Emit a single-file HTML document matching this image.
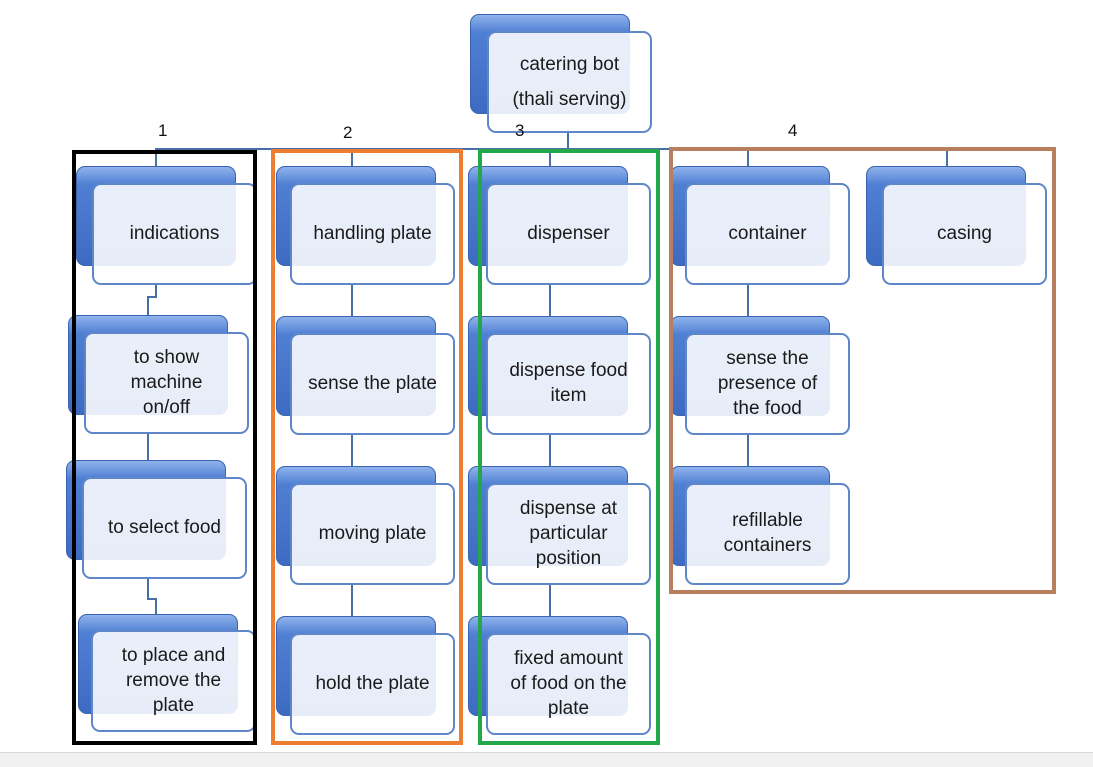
<!DOCTYPE html>
<html><head><meta charset="utf-8"><style>
body{margin:0;width:1093px;height:766px;background:#fff;position:relative;overflow:hidden;font-family:"Liberation Sans",sans-serif}
.b{position:absolute;width:160px;height:100px;border-radius:9px;background:linear-gradient(180deg,#8fb3ec 0%,#4f7fd3 18%,#3d6bc2 100%);border:1px solid #3a63b0;box-sizing:border-box}
.f{position:absolute;width:165px;height:102px;border-radius:9px;background:rgba(255,255,255,0.88);border:2px solid #5f86c8;box-sizing:border-box;display:flex;align-items:center;justify-content:center;text-align:center;font-size:19px;line-height:25px;color:#1a1a1a;padding:0 0 2px;white-space:nowrap}
.l{position:absolute;background:#4a6ea8}
.box{position:absolute;box-sizing:border-box}
.n{position:absolute;font-size:17px;color:#111}
</style></head><body>
<div class="l" style="left:155px;top:148px;width:793px;height:2px"></div>
<div class="l" style="left:567px;top:130px;width:2px;height:19px"></div>
<div class="l" style="left:155px;top:148px;width:2px;height:20px"></div>
<div class="l" style="left:351px;top:148px;width:2px;height:20px"></div>
<div class="l" style="left:549px;top:148px;width:2px;height:20px"></div>
<div class="l" style="left:747px;top:148px;width:2px;height:20px"></div>
<div class="l" style="left:946px;top:148px;width:2px;height:20px"></div>
<div class="l" style="left:155px;top:283px;width:2px;height:14px"></div>
<div class="l" style="left:147px;top:296px;width:10px;height:2px"></div>
<div class="l" style="left:147px;top:296px;width:2px;height:20px"></div>
<div class="l" style="left:147px;top:432px;width:2px;height:30px"></div>
<div class="l" style="left:147px;top:579px;width:2px;height:20px"></div>
<div class="l" style="left:147px;top:598px;width:10px;height:2px"></div>
<div class="l" style="left:155px;top:598px;width:2px;height:18px"></div>
<div class="l" style="left:351px;top:283px;width:2px;height:34px"></div>
<div class="l" style="left:351px;top:433px;width:2px;height:34px"></div>
<div class="l" style="left:351px;top:583px;width:2px;height:34px"></div>
<div class="l" style="left:549px;top:283px;width:2px;height:34px"></div>
<div class="l" style="left:549px;top:433px;width:2px;height:34px"></div>
<div class="l" style="left:549px;top:583px;width:2px;height:34px"></div>
<div class="l" style="left:747px;top:283px;width:2px;height:34px"></div>
<div class="l" style="left:747px;top:433px;width:2px;height:34px"></div>

<div class="b" style="left:470px;top:14px"></div><div class="f" style="left:487px;top:31px;line-height:35px;padding-top:2px">catering bot<br>(thali serving)</div>

<div class="b" style="left:76px;top:166px"></div><div class="f" style="left:92px;top:183px">indications</div>
<div class="b" style="left:68px;top:315px"></div><div class="f" style="left:84px;top:332px">to show<br>machine<br>on/off</div>
<div class="b" style="left:66px;top:460px"></div><div class="f" style="left:82px;top:477px">to select food</div>
<div class="b" style="left:78px;top:614px"></div><div class="f" style="left:91px;top:630px">to place and<br>remove the<br>plate</div>

<div class="b" style="left:276px;top:166px"></div><div class="f" style="left:290px;top:183px">handling plate</div>
<div class="b" style="left:276px;top:316px"></div><div class="f" style="left:290px;top:333px">sense the plate</div>
<div class="b" style="left:276px;top:466px"></div><div class="f" style="left:290px;top:483px">moving plate</div>
<div class="b" style="left:276px;top:616px"></div><div class="f" style="left:290px;top:633px">hold the plate</div>

<div class="b" style="left:468px;top:166px"></div><div class="f" style="left:486px;top:183px">dispenser</div>
<div class="b" style="left:468px;top:316px"></div><div class="f" style="left:486px;top:333px">dispense food<br>item</div>
<div class="b" style="left:468px;top:466px"></div><div class="f" style="left:486px;top:483px">dispense at<br>particular<br>position</div>
<div class="b" style="left:468px;top:616px"></div><div class="f" style="left:486px;top:633px">fixed amount<br>of food on the<br>plate</div>

<div class="b" style="left:670px;top:166px"></div><div class="f" style="left:685px;top:183px">container</div>
<div class="b" style="left:670px;top:316px"></div><div class="f" style="left:685px;top:333px">sense the<br>presence of<br>the food</div>
<div class="b" style="left:670px;top:466px"></div><div class="f" style="left:685px;top:483px">refillable<br>containers</div>

<div class="b" style="left:866px;top:166px"></div><div class="f" style="left:882px;top:183px">casing</div>

<div class="box" style="left:72px;top:150px;width:185px;height:595px;border:4px solid #000"></div>
<div class="box" style="left:271px;top:149px;width:192px;height:596px;border:4px solid #ed7d31"></div>
<div class="box" style="left:478px;top:149px;width:182px;height:596px;border:4px solid #22a84a"></div>
<div class="box" style="left:669px;top:147px;width:387px;height:447px;border:4px solid #b87f5e"></div>

<div class="n" style="left:158px;top:121px">1</div>
<div class="n" style="left:343px;top:123px">2</div>
<div class="n" style="left:515px;top:121px">3</div>
<div class="n" style="left:788px;top:121px">4</div>

<div style="position:absolute;left:0;top:752px;width:1093px;height:14px;background:#f0f0f0;border-top:1px solid #d8d8d8"></div>
</body></html>
